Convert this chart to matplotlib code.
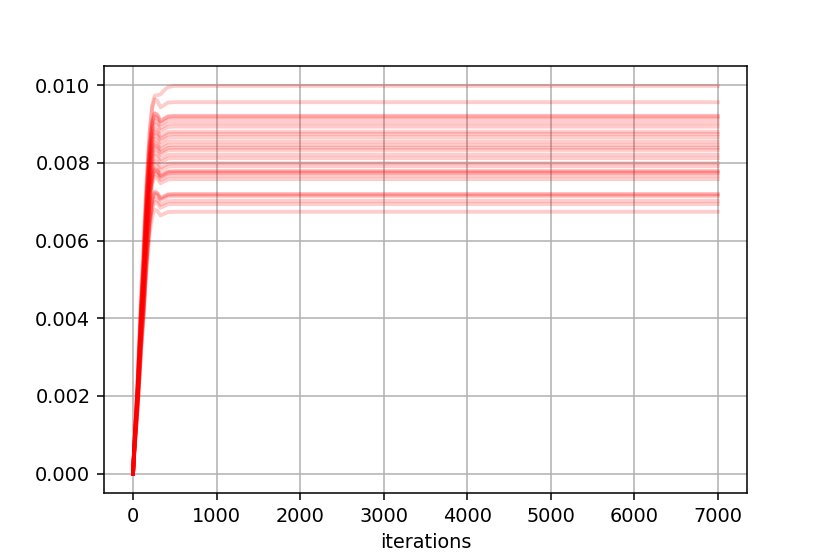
import matplotlib

matplotlib.use("Agg")
import matplotlib.pyplot as plt
import numpy as np

# iteration checkpoints and the shared rise profile (fraction of the plateau),
# read off the picture: fast rise, small overshoot near 270, dip near 340
iters = [0, 16, 56, 100, 128, 150, 170, 200, 230, 260, 290, 330, 370, 420, 500, 7000]
profile = [0.0, 0.08, 0.25, 0.48, 0.60, 0.72, 0.81, 0.92, 0.985, 1.008, 1.004,
           0.986, 0.992, 0.999, 1.0, 1.0]
# the highest run has a shoulder instead of an overshoot
top_profile = [0.0, 0.08, 0.25, 0.48, 0.60, 0.70, 0.78, 0.88, 0.95, 0.975, 0.976,
               0.978, 0.988, 0.997, 1.0, 1.0]

# final plateau of each run
top_plateau = 0.00998
plateaus = [0.00956, 0.00921, 0.00919, 0.00912, 0.00902, 0.00893,
            0.00880, 0.00874, 0.00866, 0.00855, 0.00846, 0.00839, 0.00833,
            0.00821, 0.00812, 0.00799, 0.00791, 0.00779, 0.00777, 0.00774,
            0.00767, 0.00758, 0.00720, 0.00718, 0.00714, 0.00702, 0.00694,
            0.00674]

fig, ax = plt.subplots(figsize=(830 / 138.4, 554 / 138.4), dpi=138.4)
ax.plot(iters, top_plateau * np.array(top_profile), color="red", alpha=0.2, lw=2)
prof = np.array(profile)
for p in plateaus:
    ax.plot(iters, p * prof, color="red", alpha=0.2, lw=2)
ax.grid(True)
ax.set_xlabel("iterations")
ax.set_xticks(range(0, 7001, 1000))
ax.set_yticks(np.arange(0, 0.0101, 0.002))
ax.yaxis.set_major_formatter(lambda y, _: f"{y:.3f}")
fig.savefig("out.png", dpi=138.4)
plt.close(fig)
